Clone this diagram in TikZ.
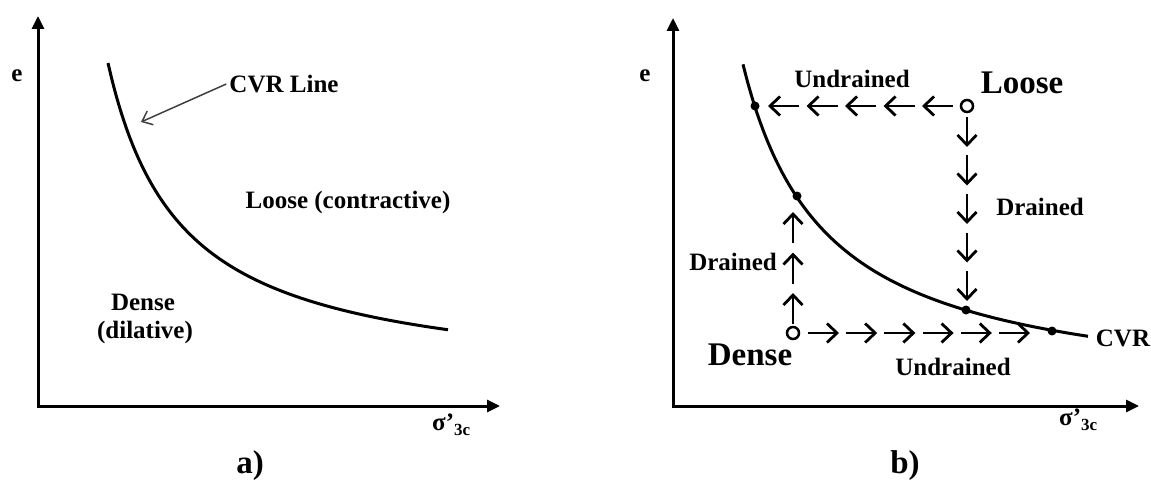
\documentclass[tikz,border=0pt]{standalone}
\usepackage{fontspec}
\setmainfont{Liberation Serif}
\usetikzlibrary{arrows.meta,calc}
\tikzset{
  axis/.style={line width=3pt, {Triangle[length=13pt,width=12pt]}-{Triangle[length=13pt,width=12pt]}},
  crv/.style={line width=3pt},
  lbl/.style={font=\fontsize{25}{29}\selectfont\bfseries, inner sep=0pt},
  biglbl/.style={font=\fontsize{33}{37}\selectfont\bfseries, inner sep=0pt},
  seg/.style={line width=2.8pt, -{Straight Barb[length=10pt,width=19pt]}},
  opencirc/.style={circle, draw, line width=2.5pt, minimum size=12pt, inner sep=0pt, fill=white},
  dotpt/.style={circle, fill, minimum size=9pt, inner sep=0pt},
  pointer/.style={line width=1.5pt, draw=black!75, -{Straight Barb[length=9pt,width=15pt]}},
}
\begin{document}
\begin{tikzpicture}[x=1pt,y=-1pt]
\useasboundingbox (0,0) rectangle (1151,484);
% ---------- panel a ----------
\coordinate (oa) at (38,406);
\coordinate (ya) at (38,16);
\coordinate (xa) at (500,406);
\draw[axis] (ya) -- (oa) -- (xa);
\draw[crv] plot[domain=108:448, samples=80, smooth] (\x, {387 - 236.5/((\x - 35)/100)});
\coordinate (cvrtip) at (141,122);
\node[lbl] (ea) at (17,76) {e};
\node[lbl] (cvrline) at (284,84) {CVR Line};
\draw[pointer] (cvrline.west) ++(-3,0) coordinate (cvrstart) -- (cvrtip);
\node[lbl] (loosea) at (348,202) {Loose (contractive)};
\node[lbl] (densea) at (143,302) {Dense};
\node[lbl] (dilat) at (145,332) {(dilative)};
\node[lbl, anchor=west] (siga) at (432,425) {σ'\raisebox{-5pt}{\fontsize{17}{17}\selectfont 3c}};
\node[biglbl] (capa) at (250,466) {a)};
% ---------- panel b ----------
\coordinate (ob) at (673,406);
\coordinate (yb) at (673,18);
\coordinate (xb) at (1139,406);
\draw[axis] (yb) -- (ob) -- (xb);
\draw[crv] plot[domain=743:1088, samples=80, smooth] (\x, {401.7 - 280/((\x - 660)/100)});
\node[dotpt] (p1) at (755,106) {};
\node[dotpt] (p2) at (797,196) {};
\node[dotpt] (p3) at (966,310) {};
\node[dotpt] (p4) at (1052,331) {};
\node[opencirc] (L) at (967,106) {};
\node[opencirc] (D) at (793,333) {};
% left chain (undrained, loose)
\foreach \i in {0,...,4}
  \draw[seg] ($(L)+({-14-38.5*\i},0)$) -- ($(L)+({-45-38.5*\i},0)$);
% down chain (drained, loose)
\foreach \i in {0,...,4}
  \draw[seg] ($(L)+(0,{11+38.5*\i})$) -- ($(L)+(0,{41+38.5*\i})$);
% up chain (drained, dense)
\foreach \i in {0,1,2}
  \draw[seg] ($(D)+(0,{-9-40.5*\i})$) -- ($(D)+(0,{-40-40.5*\i})$);
% right chain (undrained, dense)
\foreach \i in {0,...,5}
  \draw[seg] ($(D)+({15+38.2*\i},0)$) -- ($(D)+({46+38.2*\i},0)$);
\node[lbl] (eb) at (645,76) {e};
\node[lbl] (und1) at (852,79) {Undrained};
\node[biglbl] (looseb) at (1022,83) {Loose};
\node[lbl] (dr1) at (1040,207) {Drained};
\node[lbl] (dr2) at (733,262) {Drained};
\node[biglbl] (denseb) at (750,355) {Dense};
\node[lbl] (und2) at (953,367) {Undrained};
\node[lbl] (cvrb) at (1123,338) {CVR};
\node[lbl, anchor=west] (sigb) at (1059,420) {σ'\raisebox{-5pt}{\fontsize{17}{17}\selectfont 3c}};
\node[biglbl] (capb) at (905,466) {b)};
\end{tikzpicture}
\end{document}
